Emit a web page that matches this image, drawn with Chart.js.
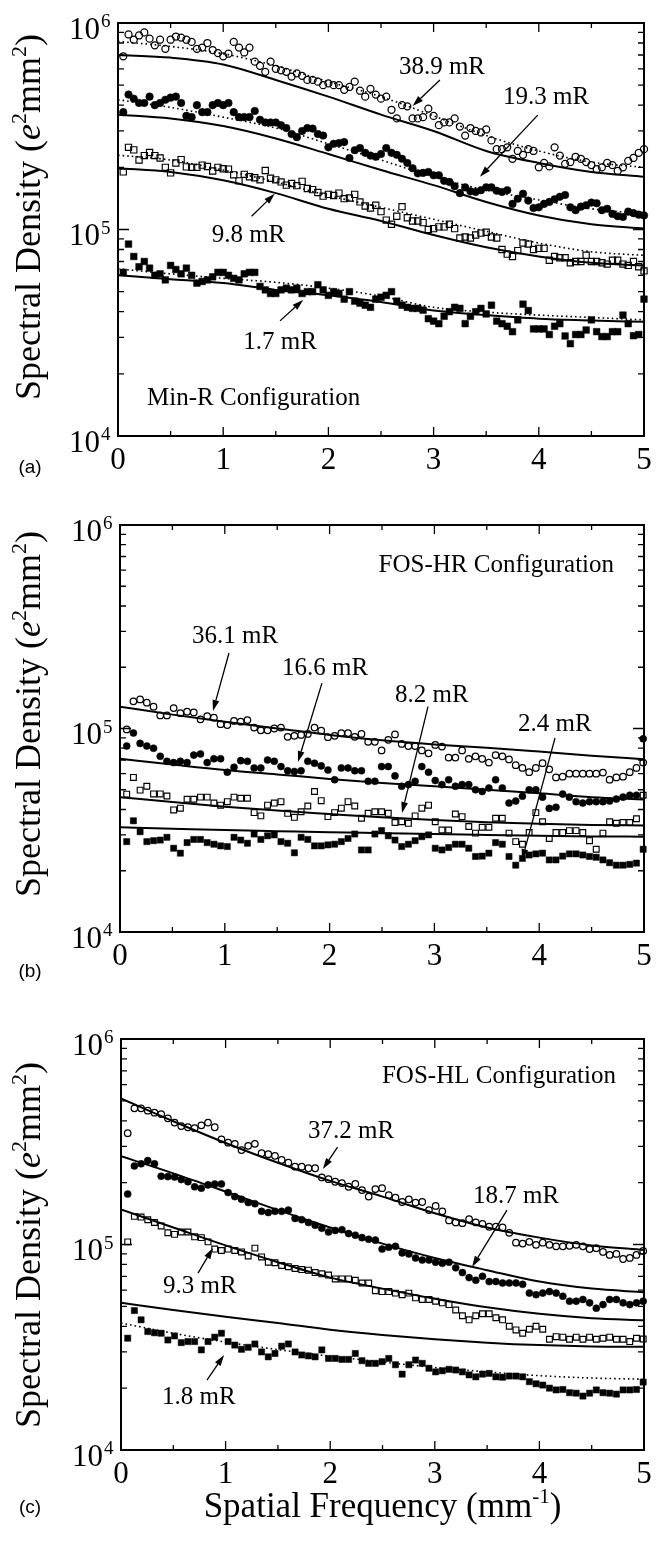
<!DOCTYPE html>
<html><head><meta charset="utf-8">
<script src="https://cdn.jsdelivr.net/npm/chart.js@4"></script>
<style>
html,body{margin:0;padding:0;background:#fff;}
body{width:660px;height:1541px;position:relative;overflow:hidden;}
canvas{position:absolute;left:0;}
</style></head><body>
<canvas id="ca" width="660" height="490" style="top:0px"></canvas>
<canvas id="cb" width="660" height="500" style="top:490px"></canvas>
<canvas id="cc" width="660" height="551" style="top:990px"></canvas>
<script>
// ---------- DATA (spectral density values in units of 10^3 e^2 mm^2) ----------
const UNIT = 1e3;
const freqA = [0.05,0.1,0.15,0.2,0.25,0.3,0.35,0.4,0.45,0.5,0.55,0.6,0.65,0.7,0.75,0.8,0.85,0.9,0.95,1,1.05,1.1,1.15,1.2,1.25,1.3,1.35,1.4,1.45,1.5,1.55,1.6,1.65,1.7,1.75,1.8,1.85,1.9,1.95,2,2.05,2.1,2.15,2.2,2.25,2.3,2.35,2.4,2.45,2.5,2.55,2.6,2.65,2.7,2.75,2.8,2.85,2.9,2.95,3,3.05,3.1,3.15,3.2,3.25,3.3,3.35,3.4,3.45,3.5,3.55,3.6,3.65,3.7,3.75,3.8,3.85,3.9,3.95,4,4.05,4.1,4.15,4.2,4.25,4.3,4.35,4.4,4.45,4.5,4.55,4.6,4.65,4.7,4.75,4.8,4.85,4.9,4.95,5];
const freqBC = [0.064,0.128,0.192,0.256,0.32,0.384,0.448,0.512,0.576,0.64,0.704,0.768,0.832,0.896,0.96,1.024,1.088,1.152,1.216,1.28,1.344,1.408,1.472,1.536,1.6,1.664,1.728,1.792,1.856,1.92,1.984,2.048,2.112,2.176,2.24,2.304,2.368,2.432,2.496,2.56,2.624,2.688,2.752,2.816,2.88,2.944,3.008,3.072,3.136,3.2,3.264,3.328,3.392,3.456,3.52,3.584,3.648,3.712,3.776,3.84,3.904,3.968,4.032,4.096,4.16,4.224,4.288,4.352,4.416,4.48,4.544,4.608,4.672,4.736,4.8,4.864,4.928,4.992];
const fitX = [0,0.5,1,1.5,2,2.5,3,3.5,4,4.5,5];

// (a) Min-R
const a389 = [690,880,830,870,900,840,780,830,750,830, 860,850,830,810,750,760,800,740,715,690, 710,810,760,720,760,650,620,580,650,600, 590,580,550,570,555,530,530,520,500,510, 500,500,475,490,520,470,440,480,450,430, 440,380,345,400,395,345,345,350,385,355, 320,330,330,345,315,285,310,300,295,305, 270,245,245,250,220,240,230,245,240,200, 210,202,250,228,208,212,225,220,212,205, 196,200,210,205,192,200,215,222,235,245];
const a193 = [370,450,430,410,410,440,400,410,425,435, 440,410,355,350,400,370,370,400,410,400, 410,370,350,350,350,375,340,330,330,330, 320,310,290,280,300,310,308,290,285,250, 260,262,265,222,242,248,235,228,225,232, 248,235,230,220,210,198,187,188,190,183, 183,172,170,162,150,160,153,152,155,160, 160,154,152,155,133,141,149,138,127,128, 133,136,140,144,147,128,124,129,131,135, 134,124,126,119,116,115,122,120,118,117];
const a98 = [190,250,243,217,228,236,228,222,200,188, 210,218,201,200,200,205,202,192,200,197, 196,184,172,185,180,178,174,193,177,174, 170,164,167,163,171,158,156,151,145,148, 146,150,141,142,148,136,130,127,131,122, 111,106,116,129,114,110,110,108,100,101, 103,103,106,101,91,92,91,94,96,97, 92,91,80,76,74,79,86,85,80,81, 81,71,74,73,73,69,70,70,75,70, 70,69,68,71,71,68,67,70,66,63];
const a17 = [62,85,74,66,70,65,60,61,57,67, 64,61,65,60,55,56,57,59,62,62, 60,58,57,61,62,62,53,51,49,49, 51,52,51,52,49,50,50,54,51,48, 50,49,46,50,45,44,43,42,46,47, 48,50,45,43,42,41.5,41.5,40.7,37,36, 35,38,40,42,41.5,35,38,40,41.5,39, 43,36,35,34,32,36.5,43.5,40.5,33,33, 33,31,34,35,30.5,28,31,31,32.6,36.5, 32,30.3,30.3,32,32,38.5,35,30.6,31,46];
const a389Fit = [700,680,630,530,440,360,300,240,210,190,180];
const a389Dot = [815,770,710,620,520,440,355,285,240,212,200];
const a193Fit = [360,345,317,276,232,194,164,136,117,106,101];
const a193Dot = [425,390,350,310,260,217,180,155,139,126,119];
const a98Fit = [198,190,173,150,126,110,94,82,74,69,67];
const a98Dot = [229,217,194,170,146,128,112,98,86,78,75];
const a17Fit = [60,57.5,55,51,48,44.5,40.5,38.5,37,36.3,35.7];
const a17Dot = [64.5,61,58,55.5,52,47.5,42,39.8,38.5,37.5,36.5];

// (b) FOS-HR
const b361 = [99,136,139,134,128,116,116,126,119,121, 120,111,115,113,105,104,109,108,110,101, 98,98,100,101,91,92,93,94,101,97.5, 90.6,92,95,95,91,94, 86,86,78,88,93.5,84,82,82,78,75.5, 83,81.5,72,72,78,71,73,71,68,74, 73,70.5,66,64,61,64,67.5,63,57.5,58, 60,60,60,60,60,60.7,56,57.5,58, 61,64,68];
const b166 = [82,95,84.5,82,80,73,69,68,69,68, 74,75,68,71,71,61,64.5,69.5,69,64, 64,70,69,65,62,61.5,62,69,67.5,65.5, 62.5,56,64,64,62,62, 55,55,65,65,58.5,52,53,55,65,61, 55.5,53,56,52,53,53,50,49,51,56, 51,43,44,46.5,50,50,46,40.5,41,47.6, 46,43.7,43,43.7,43.7,43.7,44,45,46, 47,47,89];
const b82 = [47.6,57.5,49.8,52,47.7,47.7,46.6,39.8,40.6,44.9, 44.9,46,46,43,42,43.7,46,45.4,45.4,38.6, 37.2,42,43,43.7,38.3,36.6,39,41.6,49,44.2, 36.9,38.6,40.6,43.7,41.6,36.2, 38.3,39,39,38.3,34.5,34.8,34.2,37.2,40.6,42, 34.8,31.7,31.7,38,36.9,33,30.6,32.7,32.7,36.2, 36.2,30.6,27.8,27,30.8,38.6,34.8,28.8,30.8,30.8, 31.5,31.5,30.8,28.1,25.5,30.6,34.8,34.2,34.5, 34.5,36,47];
const b24 = [27.8,35.2,31.1,27.8,28.1,28.3,29.2,25.8,24.4,27.5, 28.5,28.5,27.5,27,26.5,26.3,29.2,28.3,27.3,30.3, 28.5,29.7,30,27.8,27.3,24.5,29.2,28.5,26.5,26.5, 26.8,27,27.8,28.8,30.3,25.3, 25.3,30.3,31.5,29.7,28.3,26.3,27,28.1,29.4,30, 25.8,25.3,26,27,27,25.8,23.5,23.6,24.4,27.5, 27,23.5,21.3,23,23.9,24.2,24.4,22.6,22.6,23.6, 24.2,24.2,23.9,23.5,23.3,22.6,21.9,21.3,21.3, 21.5,21.8,25.5];
const b361Fit = [128,117,108,100,93,87.5,83.5,80.5,77,73.5,70.7];
const b166Fit = [71,66.5,62.5,59.5,56.5,54,52,50,48,46,44.8];
const b82Fit = [46,43.5,41.3,39.5,38,36.6,35.5,34.6,34,33.6,33.4];
const b24Fit = [32.7,32.2,31.7,31.3,30.9,30.6,30.3,30,29.7,29.5,29.4];

// (c) FOS-HL
const c372 = [348,460,460,448,438,431,411,392,377,372, 368,380,392,372,325,313,309,288,302,309, 278,275,270,258,250,239,239,235,235,212, 208,202,199,191,197,184, 171,186,188,174,169,161,166,160,161,147, 154,145,131,128,127,133,128,126,122,122, 121,114,102,101,103,99.6,102,99.6,98,98, 98.5,99.6,98,95,96,92,89,90,85, 86,89,93];
const c187 = [176,241,247,256,247,215,214,213,207,202, 191,188,195,197,197,179,171,166,160,158, 145,143,145,145,147,134,132,128,124,120, 115,117,118,113,111,108, 106,105,95,97,98,91,90,86,84,84, 82,81,82,77,73,69,67,70,66,66, 65,65,65,64,58,57,58,59,58,56, 53,53,54,52,49,51,54,54,52, 51,52,53];
const c93 = [103,137,136,132,128,123,114,112,115,115, 109,108,103,95,93.5,95,93.5,92,88,96, 87,82,81.5,79,78,76.5,75.5,75,73,72, 71,68,68,68,67,65, 65,59.6,59,59,58,57,58,55,54,54, 53,52,51,48,45,43,45,46,46,44, 43,40,38.4,37,38.7,40,38.7,34.6,35.6,35.4, 34.6,35.4,34.6,35.4,34.6,35,35.4,34.6,34.6, 33.7,35,34.7];
const c18 = [35,47.7,43,37.7,37.2,37,34.3,35.9,33.3,33.7, 33.7,30.7,33.7,35.4,37,33.7,32.4,30.9,31.6,32.8, 30,28.4,29.5,32,32.8,30,29,28.7,28.4,30.7, 27.9,27.9,27.6,27.6,29.5,27.2, 26.4,26.4,26.9,27.9,26,23.4,26,27.4,26.4,25, 24,24.3,24.7,24.5,24,23.2,22.7,23.4,23.6,22.7, 22.6,22.9,22.9,22.7,21.5,21,20.7,20,19.6,19.7, 19,18.9,18.3,18.9,19.6,19,18.9,18.7,19.6, 19.6,19.7,21.4];
const c372Fit = [514,398,312,250,204,171,142,121,108,99,94];
const c187Fit = [269,222,181,147,121,101,86,75,66,61,58.6];
const c93Fit = [148,121,99,82,69,61,54.5,49.5,46,43.8,42.8];
const c18Fit = [52,48,44.5,41.5,38.5,36.3,34.6,33.3,32.4,31.9,31.8];
const c18Dot = [41.5,37,33.5,30.8,28.6,26.8,25.2,24,23,22.4,22.1];

// axis tick values
const xTickVals = [0.5,1,1.5,2,2.5,3,3.5,4,4.5];
const xLabelVals = [0,1,2,3,4,5];
const yDecades = [1e4,1e5,1e6];
const yMinor = [2e4,3e4,4e4,5e4,6e4,7e4,8e4,9e4,2e5,3e5,4e5,5e5,6e5,7e5,8e5,9e5];

// ---------- annotations (data coordinates) ----------
const annA = {
  labels: [['38.9 mR',2.67,5.66e5],['19.3 mR',3.66,4.06e5],['9.8 mR',0.89,8.69e4],['1.7 mR',1.19,2.64e4]],
  arrows: [[3.06,5.30e5,2.80,3.96e5],[3.99,3.58e5,3.44,1.80e5],[1.27,1.16e5,1.49,1.49e5],[1.54,3.61e4,1.76,4.56e4]],
  config: ['Min-R Configuration',0.276,1.41e4,'left'],
  panel: ['(a)',30,468], titleY: 217, last: false
};
const annB = {
  labels: [['36.1 mR',0.687,2.63e5],['16.6 mR',1.546,1.83e5],['8.2 mR',2.624,1.35e5],['2.4 mR',3.798,9.72e4]],
  arrows: [[1.04,2.35e5,0.887,1.22e5],[1.927,1.67e5,1.698,6.84e4],[2.939,1.28e5,2.691,3.84e4],[4.151,8.98e4,3.836,2.26e4]],
  config: ['FOS-HR Configuration',4.714,5.87e5,'right'],
  panel: ['(b)',30,482], titleY: 224, last: false
};
const annC = {
  labels: [['37.2 mR',1.788,3.30e5],['18.7 mR',3.365,1.59e5],['9.3 mR',0.402,5.81e4],['1.8 mR',0.392,1.68e4]],
  arrows: [[2.07,2.98e5,1.93,2.33e5],[3.69,1.47e5,3.356,7.78e4],[0.736,7.26e4,0.88,9.62e4],[0.822,2.19e4,0.985,2.90e4]],
  config: ['FOS-HL Configuration',4.732,6.11e5,'right'],
  panel: ['(c)',30,518], titleY: 255, last: true
};

// ---------- styling helpers ----------
const SERIF = '"Liberation Serif","Times New Roman",serif';
function pts(xs, ys){ return xs.map((x,i)=>({x:x, y:ys[i]*UNIT})); }
function marks(xs, ys, kind, small){
  const d = {data: pts(xs,ys), showLine:false, clip:false, borderColor:'#000', pointBorderColor:'#000'};
  const s = small ? 0.93 : 1;
  if (kind==='oc'){ Object.assign(d,{pointStyle:'circle', pointRadius:3.5*s, pointBorderWidth:1.25, pointBackgroundColor:'rgba(0,0,0,0)'}); }
  if (kind==='fc'){ Object.assign(d,{pointStyle:'circle', pointRadius:3.8*s, pointBorderWidth:0.5, pointBackgroundColor:'#000'}); }
  if (kind==='os'){ Object.assign(d,{pointStyle:'rect', pointRadius:4.4*s, pointBorderWidth:1.15, pointBackgroundColor:'rgba(0,0,0,0)'}); }
  if (kind==='fs'){ Object.assign(d,{pointStyle:'rect', pointRadius:4.7*s, pointBorderWidth:0.5, pointBackgroundColor:'#000'}); }
  return d;
}
function curve(ys, dotted){
  return {data: pts(fitX, ys), showLine:true, pointRadius:0, borderColor:'#000',
    borderWidth: dotted ? 1.6 : 2, borderDash: dotted ? [1.6,3] : [], cubicInterpolationMode:'monotone', fill:false};
}

function drawParts(ctx, parts, x0, y0){
  let w = 0;
  parts.forEach(p=>{ ctx.font = p.f; p.w = ctx.measureText(p.t).width; w += p.w; });
  let x = x0 - w/2;
  parts.forEach(p=>{ ctx.font = p.f; ctx.fillText(p.t, x, y0 + p.dy); x += p.w; });
}
function arrow(ctx, x1, y1, x2, y2){
  const ang = Math.atan2(y2-y1, x2-x1), L = 11, W = 3.4;
  const bx = x2 - L*Math.cos(ang), by = y2 - L*Math.sin(ang);
  ctx.beginPath(); ctx.moveTo(x1,y1); ctx.lineTo(bx,by); ctx.stroke();
  ctx.beginPath(); ctx.moveTo(x2,y2);
  ctx.lineTo(bx + W*Math.sin(ang), by - W*Math.cos(ang));
  ctx.lineTo(bx - W*Math.sin(ang), by + W*Math.cos(ang));
  ctx.closePath(); ctx.fill();
}

function decor(ann){
  return {
    id: 'decor',
    afterDraw(chart){
      const ctx = chart.ctx, ca = chart.chartArea, xs = chart.scales.x, ys = chart.scales.y;
      ctx.save();
      ctx.strokeStyle = '#000'; ctx.fillStyle = '#000';
      // inward tick marks
      ctx.lineWidth = 1.3; ctx.beginPath();
      xTickVals.forEach(v=>{
        const px = xs.getPixelForValue(v), len = Number.isInteger(v) ? 9 : 5;
        ctx.moveTo(px, ca.bottom); ctx.lineTo(px, ca.bottom - len);
        ctx.moveTo(px, ca.top); ctx.lineTo(px, ca.top + len);
      });
      yMinor.concat([1e5]).forEach(v=>{
        const py = ys.getPixelForValue(v), len = (v===1e5) ? 11 : 6;
        ctx.moveTo(ca.left, py); ctx.lineTo(ca.left + len, py);
        ctx.moveTo(ca.right, py); ctx.lineTo(ca.right - len, py);
      });
      ctx.stroke();
      // frame
      ctx.lineWidth = 2;
      ctx.strokeRect(ca.left, ca.top, ca.right-ca.left, ca.bottom-ca.top);
      // x tick labels
      ctx.font = '31px ' + SERIF; ctx.textAlign = 'center'; ctx.textBaseline = 'alphabetic';
      xLabelVals.forEach(v=>{ ctx.fillText(String(v), xs.getPixelForValue(v), ca.bottom + 33); });
      // y tick labels 10^n
      yDecades.forEach(v=>{
        const py = ys.getPixelForValue(v), e = String(Math.round(Math.log10(v)));
        ctx.font = '31px ' + SERIF; ctx.textAlign = 'right';
        ctx.fillText('10', ca.left - 18, py + 15.5);
        ctx.font = '19px ' + SERIF; ctx.textAlign = 'left';
        ctx.fillText(e, ca.left - 17, py + 4);
      });
      // y axis title (rotated)
      ctx.save();
      ctx.translate(40, ann.titleY); ctx.rotate(-Math.PI/2);
      ctx.textAlign = 'left';
      drawParts(ctx, [
        {t:'Spectral Density (', f:'36px '+SERIF, dy:0},
        {t:'e', f:'italic 36px '+SERIF, dy:0},
        {t:'2', f:'22px '+SERIF, dy:-14},
        {t:'mm', f:'36px '+SERIF, dy:0},
        {t:'2', f:'22px '+SERIF, dy:-14},
        {t:')', f:'36px '+SERIF, dy:0}], 0, 0);
      ctx.restore();
      // exposure labels and arrows
      ctx.font = '25px ' + SERIF; ctx.textAlign = 'left';
      ann.labels.forEach(l=>{ ctx.fillText(l[0], xs.getPixelForValue(l[1]), ys.getPixelForValue(l[2])); });
      ctx.lineWidth = 1.3;
      ann.arrows.forEach(a=>{ arrow(ctx, xs.getPixelForValue(a[0]), ys.getPixelForValue(a[1]), xs.getPixelForValue(a[2]), ys.getPixelForValue(a[3])); });
      // configuration text
      ctx.font = '25px ' + SERIF; ctx.textAlign = ann.config[3];
      ctx.fillText(ann.config[0], xs.getPixelForValue(ann.config[1]), ys.getPixelForValue(ann.config[2]));
      // panel letter
      ctx.font = '19px "Liberation Sans",Arial,sans-serif'; ctx.textAlign = 'center'; ctx.textBaseline = 'middle';
      ctx.fillText(ann.panel[0], ann.panel[1], ann.panel[2]);
      // x axis title on last panel
      if (ann.last){
        ctx.textBaseline = 'alphabetic'; ctx.textAlign = 'left';
        drawParts(ctx, [
          {t:'Spatial Frequency (mm', f:'35px '+SERIF, dy:0},
          {t:'-1', f:'21px '+SERIF, dy:-14},
          {t:')', f:'35px '+SERIF, dy:0}], (ca.left+ca.right)/2, 527);
      }
      ctx.restore();
    }
  };
}

function makeChart(id, H, T, B, L, datasets, ann){
  return new Chart(document.getElementById(id), {
    type: 'scatter',
    data: {datasets: datasets},
    options: {
      responsive:false, animation:false, devicePixelRatio:1, events:[],
      layout:{padding:{top:T, right:16, left:0, bottom:0}},
      plugins:{legend:{display:false}, tooltip:{enabled:false}},
      scales:{
        x:{type:'linear', min:0, max:5, ticks:{display:false}, grid:{display:false}, border:{display:false},
           afterFit(s){ s.height = H - B; }},
        y:{type:'logarithmic', min:1e4, max:1e6, ticks:{display:false}, grid:{display:false}, border:{display:false},
           afterFit(s){ s.width = L; }}
      }
    },
    plugins:[decor(ann)]
  });
}

makeChart('ca', 490, 23, 436, 118, [
  curve(a389Fit,false), curve(a389Dot,true), curve(a193Fit,false), curve(a193Dot,true),
  curve(a98Fit,false), curve(a98Dot,true), curve(a17Fit,false), curve(a17Dot,true),
  marks(freqA,a389,'oc'), marks(freqA,a193,'fc'), marks(freqA,a98,'os'), marks(freqA,a17,'fs')
], annA);

makeChart('cb', 500, 35, 442, 120, [
  curve(b361Fit,false), curve(b166Fit,false), curve(b82Fit,false), curve(b24Fit,false),
  marks(freqBC,b361,'oc',true), marks(freqBC,b166,'fc',true), marks(freqBC,b82,'os',true), marks(freqBC,b24,'fs',true)
], annB);

makeChart('cc', 551, 49, 460, 121, [
  curve(c372Fit,false), curve(c187Fit,false), curve(c93Fit,false), curve(c18Fit,false), curve(c18Dot,true),
  marks(freqBC,c372,'oc',true), marks(freqBC,c187,'fc',true), marks(freqBC,c93,'os',true), marks(freqBC,c18,'fs',true)
], annC);
</script>
</body></html>
